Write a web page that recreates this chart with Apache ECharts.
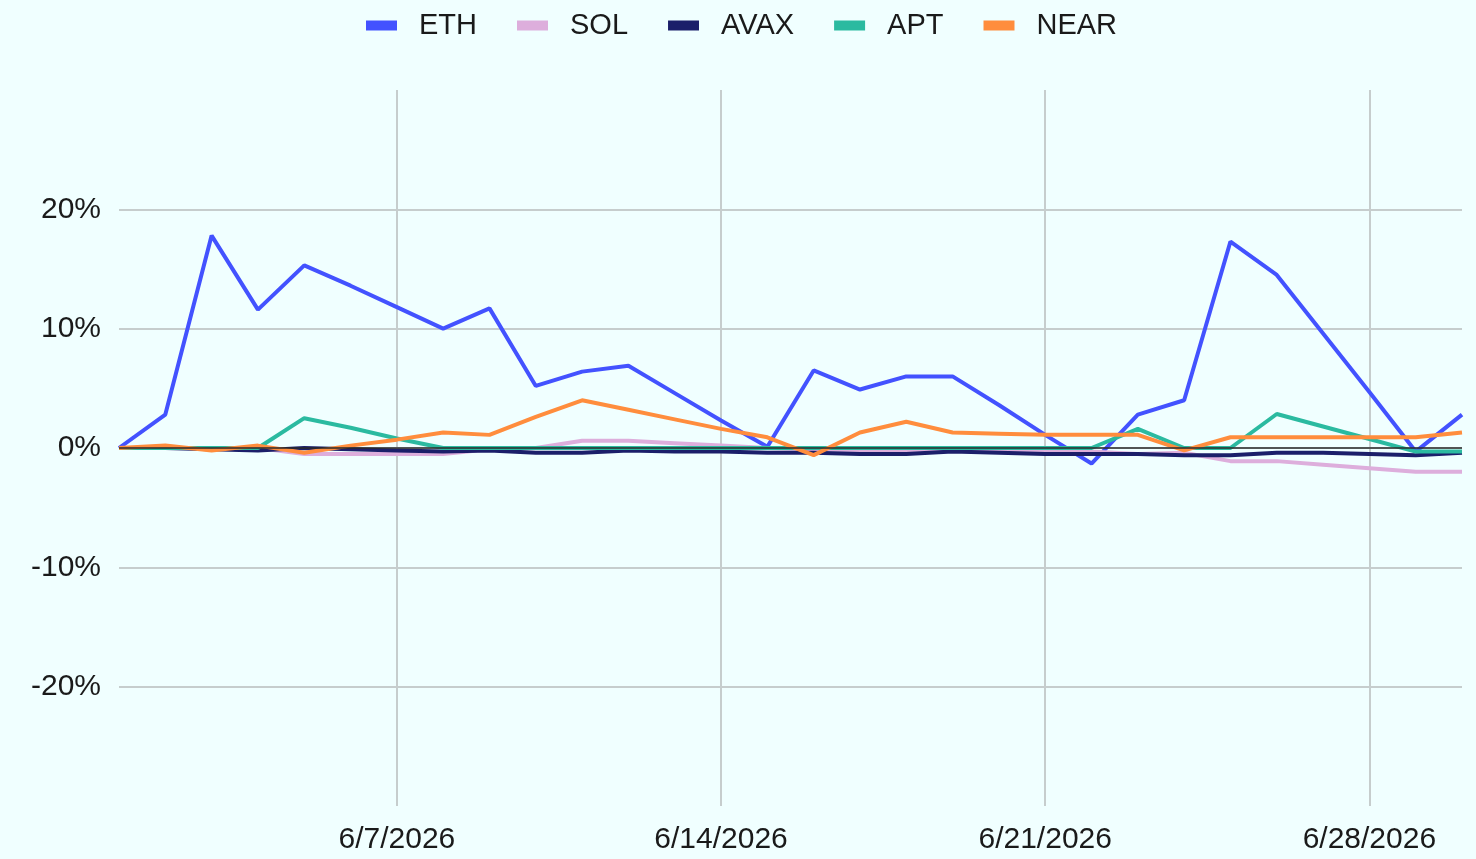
<!DOCTYPE html>
<html>
<head>
<meta charset="utf-8">
<script src="https://cdn.jsdelivr.net/npm/echarts@6/dist/echarts.min.js"></script>
<style>
  html, body { margin: 0; padding: 0; background: #F0FFFF; }
  #chart { width: 1476px; height: 859px; }
</style>
</head>
<body>
<div id="chart"></div>
<script>
// daily dates 6/1/2026 .. 6/30/2026
var dates = [];
for (var d = 1; d <= 30; d++) dates.push('6/' + d + '/2026');

// cumulative change, %
var eth  = [0, 2.8, 17.8, 11.6, 15.3, 13.6, 11.8, 10.0, 11.7, 5.2, 6.4, 6.9, 4.6, 2.3, 0.1, 6.5, 4.9, 6.0, 6.0, 3.6, 1.1, -1.3, 2.8, 4.0, 17.3, 14.5, 9.6, 4.7, -0.3, 2.8];
var sol  = [0, 0, 0, 0, -0.5, -0.5, -0.5, -0.5, -0.1, 0, 0.6, 0.6, 0.4, 0.2, 0, -0.1, -0.2, -0.2, -0.2, -0.2, -0.3, -0.3, -0.5, -0.4, -1.1, -1.1, -1.4, -1.7, -2.0, -2.0];
var avax = [0, 0, -0.1, -0.2, 0, -0.1, -0.2, -0.3, -0.2, -0.4, -0.4, -0.2, -0.3, -0.3, -0.4, -0.4, -0.5, -0.5, -0.3, -0.4, -0.5, -0.5, -0.5, -0.6, -0.6, -0.4, -0.4, -0.5, -0.6, -0.4];
var apt  = [0, 0, 0, 0, 2.5, 1.7, 0.8, 0, 0, 0, 0, 0, 0, 0, 0, 0, 0, 0, 0, 0, 0, 0, 1.6, 0, 0, 2.85, 1.8, 0.75, -0.3, -0.3];
var near = [0, 0.2, -0.2, 0.2, -0.4, 0.2, 0.7, 1.3, 1.1, 2.6, 4.0, 3.2, 2.4, 1.6, 0.9, -0.6, 1.3, 2.2, 1.3, 1.2, 1.1, 1.1, 1.1, -0.2, 0.9, 0.9, 0.9, 0.9, 0.9, 1.3];

var names  = ['ETH', 'SOL', 'AVAX', 'APT', 'NEAR'];
var colors = ['#4352FF', '#DDAEDC', '#1B1F6A', '#2BBAA0', '#FF8D3D'];
var values = [eth, sol, avax, apt, near];

var FONT = 'Liberation Sans, Arial, sans-serif';
var weekTick = function (i) { return i % 7 === 6; };

var series = names.map(function (n, i) {
    return {
        name: n,
        type: 'line',
        data: values[i],
        color: colors[i],
        symbol: 'none',
        lineStyle: { width: 4 },
        z: 2
    };
});
// dark zero line sitting under the series
series.unshift({
    type: 'line',
    data: [],
    z: 1,
    silent: true,
    markLine: {
        symbol: 'none',
        silent: true,
        label: { show: false },
        lineStyle: { color: '#2a2a2a', width: 1.5, type: 'solid' },
        data: [{ yAxis: 0 }]
    }
});

var chart = echarts.init(document.getElementById('chart'));
chart.setOption({
    backgroundColor: '#F0FFFF',
    animation: false,
    textStyle: { fontFamily: FONT },
    legend: {
        data: names,
        top: 6,
        left: 361,
        itemWidth: 31,
        itemHeight: 10,
        itemGap: 40,
        icon: 'rect',
        textStyle: { fontSize: 29, color: '#1a1a1a', fontFamily: FONT, padding: [0, 0, 0, 17] }
    },
    grid: { left: 119, right: 14, top: 90, bottom: 53, containLabel: false },
    xAxis: {
        type: 'category',
        data: dates,
        boundaryGap: false,
        axisLine: { show: false },
        axisTick: { show: false },
        axisLabel: {
            interval: weekTick,
            fontSize: 30,
            color: '#1a1a1a',
            margin: 19,
            fontFamily: FONT
        },
        splitLine: {
            show: true,
            interval: weekTick,
            lineStyle: { color: '#C6CDCD', width: 2 }
        }
    },
    yAxis: {
        type: 'value',
        min: -30,
        max: 30,
        interval: 10,
        axisLine: { show: false },
        axisTick: { show: false },
        axisLabel: {
            formatter: '{value}%',
            fontSize: 30,
            color: '#1a1a1a',
            margin: 18,
            showMinLabel: false,
            showMaxLabel: false,
            fontFamily: FONT
        },
        splitLine: {
            show: true,
            showMinLine: false,
            showMaxLine: false,
            lineStyle: { color: '#C6CDCD', width: 2 }
        }
    },
    series: series
});
</script>
</body>
</html>
